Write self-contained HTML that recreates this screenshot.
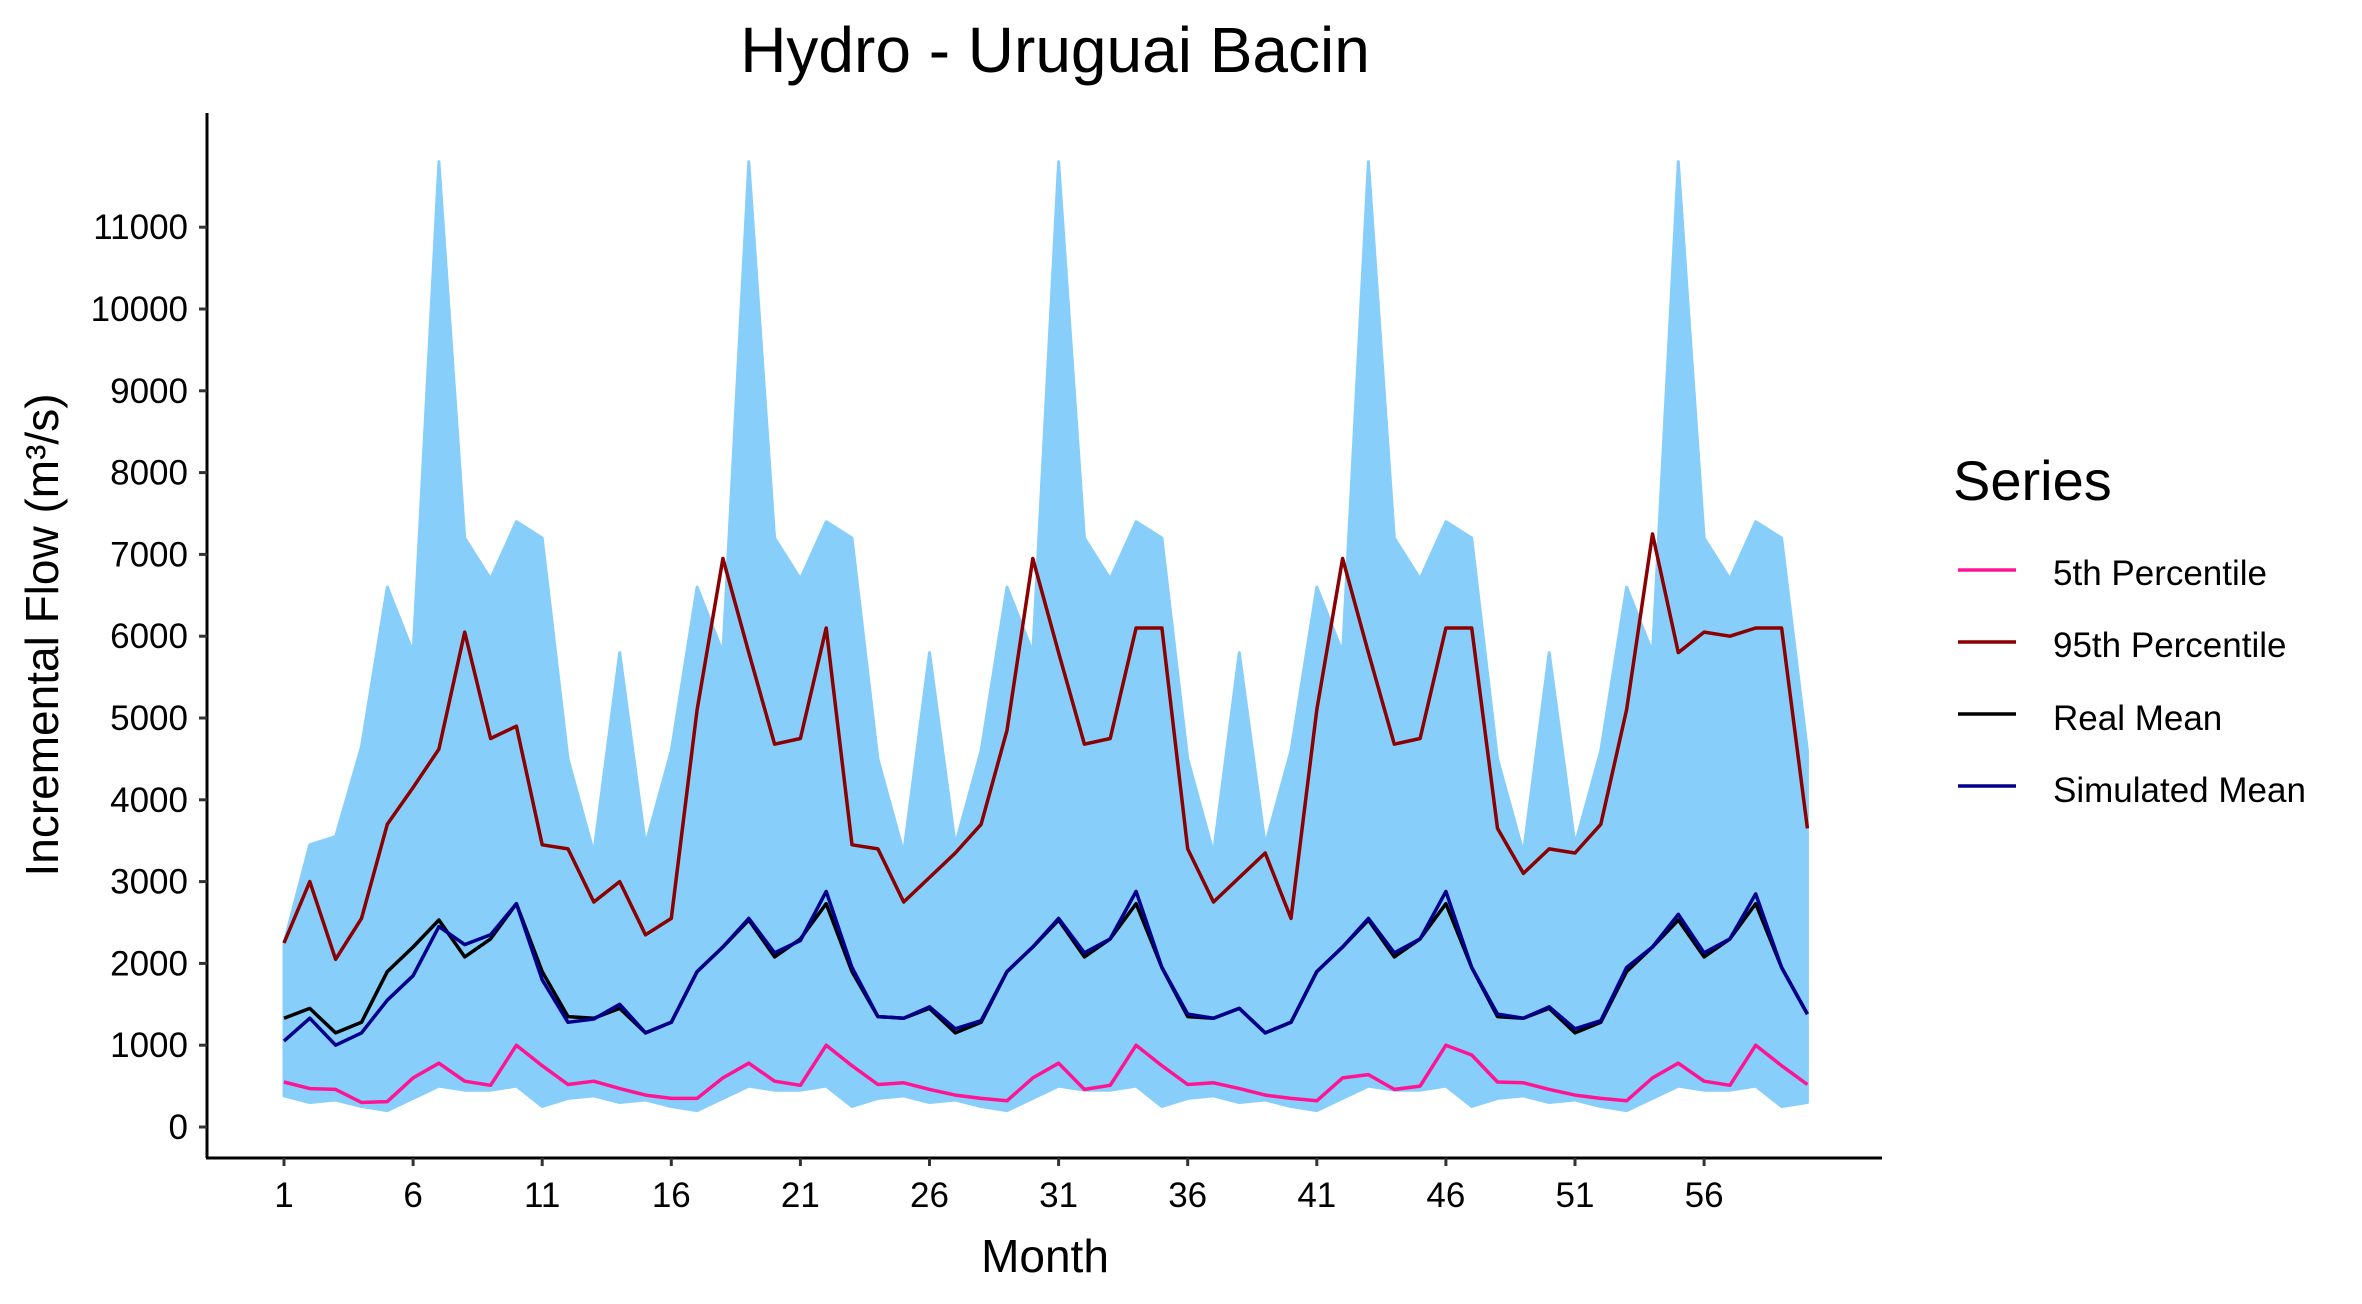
<!DOCTYPE html>
<html><head><meta charset="utf-8"><style>
html,body{margin:0;padding:0;background:#fff;}
svg text{font-family:"Liberation Sans",Arial,sans-serif;}
</style></head><body>
<svg id="chart" width="2362" height="1299" viewBox="0 0 2362 1299" xmlns="http://www.w3.org/2000/svg">
<text x="1055" y="72" font-size="64" text-anchor="middle">Hydro - Uruguai Bacin</text>
<g id="plot"></g>
<line x1="207" y1="113" x2="207" y2="1158" stroke="#000" stroke-width="3"/>
<line x1="206" y1="1158" x2="1882" y2="1158" stroke="#000" stroke-width="3"/>
<g id="yticks"></g>
<g id="xticks"></g>
<text x="1045" y="1272" font-size="46" text-anchor="middle">Month</text>
<text transform="translate(58,635) rotate(-90)" font-size="46" text-anchor="middle">Incremental Flow (m³/s)</text>
<g>
<text x="1953" y="500" font-size="56">Series</text>
<g><line x1="1958" y1="570" x2="2016" y2="570" stroke="#FF1493" stroke-width="3.5"/><text x="2053" y="585" font-size="35">5th Percentile</text></g>
<g><line x1="1958" y1="642" x2="2016" y2="642" stroke="#8B0000" stroke-width="3.5"/><text x="2053" y="657" font-size="35">95th Percentile</text></g>
<g><line x1="1958" y1="714" x2="2016" y2="714" stroke="#000" stroke-width="3.5"/><text x="2053" y="730" font-size="35">Real Mean</text></g>
<g><line x1="1958" y1="786" x2="2016" y2="786" stroke="#00008B" stroke-width="3.5"/><text x="2053" y="802" font-size="35">Simulated Mean</text></g>
</g>
</svg>
<script>
const months = Array.from({length:60},(_,i)=>i+1);
const ensembleMax = [2250,3450,3550,4650,6600,5800,11800,7200,6700,7400,7200,4500,3350,5800,3450,4600,6600,5800,11800,7200,6700,7400,7200,4500,3350,5800,3450,4600,6600,5800,11800,7200,6700,7400,7200,4500,3350,5800,3450,4600,6600,5800,11800,7200,6700,7400,7200,4500,3350,5800,3450,4600,6600,5800,11800,7200,6700,7400,7200,4600];
const ensembleMin = [380,300,330,250,200,350,500,450,450,500,250,350,380,300,330,250,200,350,500,450,450,500,250,350,380,300,330,250,200,350,500,450,450,500,250,350,380,300,330,250,200,350,500,450,450,500,250,350,380,300,330,250,200,350,500,450,450,500,250,300];
const p95 = [2250,3000,2050,2550,3700,4150,4620,6050,4750,4900,3450,3400,2750,3000,2350,2550,5100,6950,5800,4680,4750,6100,3450,3400,2750,3050,3350,3700,4850,6950,5800,4680,4750,6100,6100,3400,2750,3050,3350,2550,5100,6950,5800,4680,4750,6100,6100,3650,3100,3400,3350,3700,5100,7250,5800,6050,6000,6100,6100,3650];
const realMean = [1330,1450,1150,1280,1900,2200,2530,2080,2300,2730,1900,1350,1330,1450,1150,1280,1900,2200,2530,2080,2300,2730,1900,1350,1330,1450,1150,1280,1900,2200,2530,2080,2300,2730,1950,1350,1330,1450,1150,1280,1900,2200,2530,2080,2300,2730,1950,1350,1330,1450,1150,1280,1900,2200,2530,2080,2300,2730,1950,1380];
const simMean = [1050,1330,1000,1150,1550,1850,2450,2230,2350,2730,1800,1280,1320,1500,1150,1280,1900,2200,2550,2130,2280,2880,1950,1350,1330,1470,1200,1300,1900,2200,2550,2130,2300,2880,1950,1380,1330,1450,1150,1280,1900,2200,2550,2130,2300,2880,1950,1380,1330,1470,1200,1300,1950,2200,2600,2130,2300,2850,1950,1380];
const p5 = [550,470,460,300,310,600,780,560,510,1000,750,520,560,470,390,350,350,600,780,560,510,1000,750,520,540,460,390,350,320,600,780,460,510,1000,750,520,540,470,390,350,320,600,640,460,500,1000,880,550,540,460,390,350,320,600,780,560,510,1000,750,520];
const yTicks = [0,1000,2000,3000,4000,5000,6000,7000,8000,9000,10000,11000];
const xTicks = [1,6,11,16,21,26,31,36,41,46,51,56];

const NS="http://www.w3.org/2000/svg";
function xS(m){return 284+(m-1)*25.82;}
function yS(v){return 1127-v*0.0818;}
const plot=document.getElementById('plot');
function pts(arr){return arr.map((v,i)=>xS(months[i]).toFixed(1)+','+yS(v).toFixed(1)).join(' ');}

const poly=document.createElementNS(NS,'polygon');
poly.setAttribute('points',pts(ensembleMax)+' '+ensembleMin.map((v,i)=>xS(months[i]).toFixed(1)+','+yS(v).toFixed(1)).reverse().join(' '));
poly.setAttribute('fill','#87CEFA');
poly.setAttribute('stroke','#87CEFA');
poly.setAttribute('stroke-width','3');
poly.setAttribute('stroke-linejoin','round');


plot.appendChild(poly);

function addLine(arr,color,name){
  const l=document.createElementNS(NS,'polyline');
  l.setAttribute('points',pts(arr));
  l.setAttribute('fill','none');
  l.setAttribute('stroke',color);
  l.setAttribute('stroke-width','3.5');
  l.setAttribute('stroke-linejoin','round');
  
  
  plot.appendChild(l);
}
addLine(p95,'#8B0000','line-95th-percentile');
addLine(realMean,'#000000','line-real-mean');
addLine(simMean,'#00008B','line-simulated-mean');
addLine(p5,'#FF1493','line-5th-percentile');

const yg=document.getElementById('yticks');
yTicks.forEach(v=>{
  const t=document.createElementNS(NS,'line');
  t.setAttribute('x1',199);t.setAttribute('x2',207);
  t.setAttribute('y1',yS(v));t.setAttribute('y2',yS(v));
  t.setAttribute('stroke','#333');t.setAttribute('stroke-width','3');
  
  
  yg.appendChild(t);
  const tx=document.createElementNS(NS,'text');
  tx.setAttribute('x',188);tx.setAttribute('y',yS(v)+12);
  tx.setAttribute('font-size','35');tx.setAttribute('text-anchor','end');
  tx.textContent=v;
  
  
  yg.appendChild(tx);
});
const xg=document.getElementById('xticks');
xTicks.forEach(m=>{
  const t=document.createElementNS(NS,'line');
  t.setAttribute('x1',xS(m));t.setAttribute('x2',xS(m));
  t.setAttribute('y1',1158);t.setAttribute('y2',1166);
  t.setAttribute('stroke','#333');t.setAttribute('stroke-width','3');
  
  
  xg.appendChild(t);
  const tx=document.createElementNS(NS,'text');
  tx.setAttribute('x',xS(m));tx.setAttribute('y',1207);
  tx.setAttribute('font-size','35');tx.setAttribute('text-anchor','middle');
  tx.textContent=m;
  
  
  xg.appendChild(tx);
});
</script>
</body></html>
